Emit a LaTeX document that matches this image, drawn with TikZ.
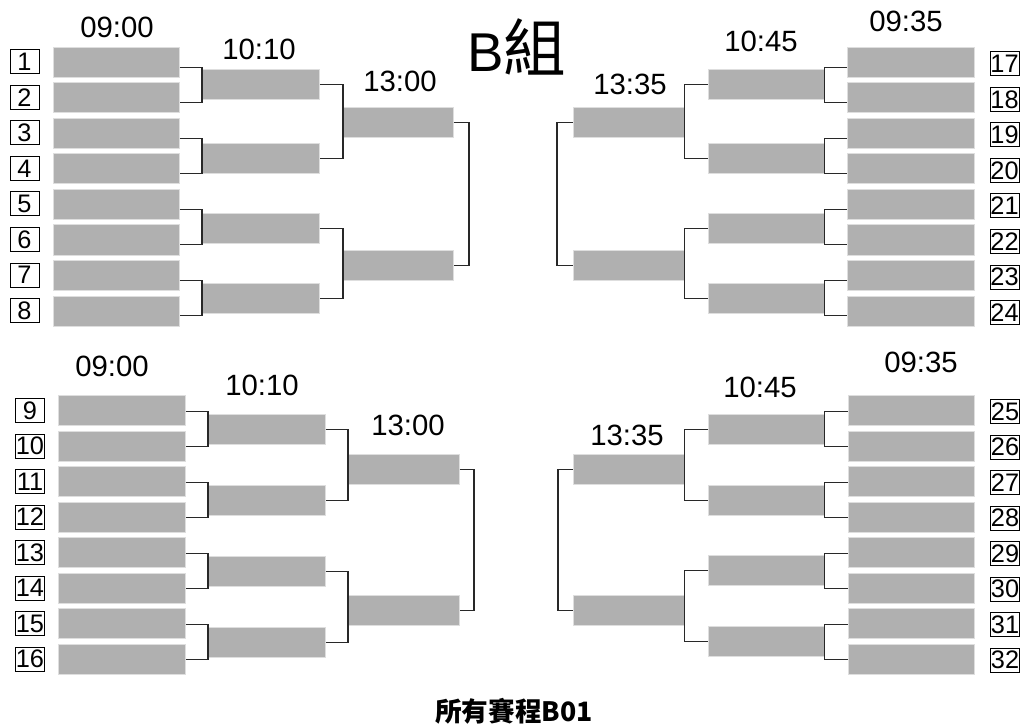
\documentclass[tikz,border=0pt]{standalone}
\usepackage{fontspec}
\setmainfont{Liberation Sans}
\newfontfamily\cjkfont{Noto Sans CJK TC}
\definecolor{boxgray}{RGB}{176,176,176}
\definecolor{boxedge}{RGB}{222,222,222}
\definecolor{linkcol}{RGB}{40,40,40}
\tikzset{
  gbox/.style={fill=boxgray, draw=boxedge, line width=0.4pt, inner sep=0pt, anchor=north west, minimum height=22.5pt},
  numbox/.style={draw=black, line width=0.75pt, inner sep=0pt, minimum width=21.75pt, minimum height=18pt, font=\fontsize{19}{19}\selectfont},
  timelbl/.style={anchor=base, inner sep=0pt, font=\fontsize{22}{22}\selectfont},
  link/.style={draw=linkcol, line width=0.9pt},
}
\begin{document}
\begin{tikzpicture}[x=0.75pt, y=-0.75pt]
\useasboundingbox[fill=white] (0,0) rectangle (1023,727);

% ---------- top left ----------
\foreach \i [evaluate=\i as \t using 47+35.5*\i, evaluate=\i as \nn using int(\i+1)] in {0,...,7} {
  \node[gbox, minimum width=94.5pt] (tla-\i) at (53,\t) {};
  \node[numbox] (ntl-\i) at (24.5,\t+15) {\nn};
}
\foreach \j/\t in {0/69,1/143,2/213,3/283}
  \node[gbox, minimum width=87.75pt] (tlb-\j) at (202,\t) {};
\foreach \j/\t in {0/107,1/250}
  \node[gbox, minimum width=82.5pt] (tlc-\j) at (343,\t) {};
\foreach \j in {0,...,3} {
  \pgfmathtruncatemacro\a{2*\j}\pgfmathtruncatemacro\b{2*\j+1}
  \draw[link] ([yshift=-3.75pt]tla-\a.east) -| (tlb-\j.west) |- ([yshift=-3.75pt]tla-\b.east);
}
\draw[link] (tlb-0.east) -| (tlc-0.west) |- (tlb-1.east);
\draw[link] (tlb-2.east) -| (tlc-1.west) |- (tlb-3.east);
\coordinate (tlf) at (469,190);
\draw[link] (tlc-0.east) -| (tlf) |- (tlc-1.east);

% ---------- bottom left ----------
\foreach \i [evaluate=\i as \t using 395+35.5*\i, evaluate=\i as \nn using int(\i+9)] in {0,...,7} {
  \node[gbox, minimum width=95.25pt] (bla-\i) at (58,\t) {};
  \node[numbox] (nbl-\i) at (30,\t+15.5) {\nn};
}
\foreach \j/\t in {0/414,1/485,2/556,3/627}
  \node[gbox, minimum width=87.75pt] (blb-\j) at (208,\t) {};
\foreach \j/\t in {0/454,1/595}
  \node[gbox, minimum width=83.25pt] (blc-\j) at (348,\t) {};
\foreach \j in {0,...,3} {
  \pgfmathtruncatemacro\a{2*\j}\pgfmathtruncatemacro\b{2*\j+1}
  \draw[link] ([yshift=-0.75pt]bla-\a.east) -| (blb-\j.west) |- ([yshift=-0.75pt]bla-\b.east);
}
\draw[link] (blb-0.east) -| (blc-0.west) |- (blb-1.east);
\draw[link] (blb-2.east) -| (blc-1.west) |- (blb-3.east);
\coordinate (blf) at (474,540);
\draw[link] (blc-0.east) -| (blf) |- (blc-1.east);

% ---------- top right ----------
\foreach \i [evaluate=\i as \t using 47+35.5*\i, evaluate=\i as \nn using int(\i+17)] in {0,...,7} {
  \node[gbox, minimum width=95.25pt] (tra-\i) at (847,\t) {};
  \node[numbox] (ntr-\i) at (1004.5,\t+17) {\nn};
}
\foreach \j/\t in {0/69,1/143,2/213,3/283}
  \node[gbox, minimum width=87pt] (trb-\j) at (708,\t) {};
\foreach \j/\t in {0/107,1/250}
  \node[gbox, minimum width=83.25pt] (trc-\j) at (573,\t) {};
\foreach \j in {0,...,3} {
  \pgfmathtruncatemacro\a{2*\j}\pgfmathtruncatemacro\b{2*\j+1}
  \draw[link] ([yshift=-3.75pt]tra-\a.west) -| (trb-\j.east) |- ([yshift=-3.75pt]tra-\b.west);
}
\draw[link] (trb-0.west) -| (trc-0.east) |- (trb-1.west);
\draw[link] (trb-2.west) -| (trc-1.east) |- (trb-3.west);
\coordinate (trf) at (557,190);
\draw[link] (trc-0.west) -| (trf) |- (trc-1.west);

% ---------- bottom right ----------
\foreach \i [evaluate=\i as \t using 395+35.5*\i, evaluate=\i as \nn using int(\i+25)] in {0,...,7} {
  \node[gbox, minimum width=94.5pt] (bra-\i) at (848,\t) {};
  \node[numbox] (nbr-\i) at (1005,\t+16.5) {\nn};
}
\foreach \j/\t in {0/414,1/485,2/555,3/626}
  \node[gbox, minimum width=87pt] (brb-\j) at (708,\t) {};
\foreach \j/\t in {0/454,1/595}
  \node[gbox, minimum width=83.25pt] (brc-\j) at (573,\t) {};
\foreach \j in {0,...,3} {
  \pgfmathtruncatemacro\a{2*\j}\pgfmathtruncatemacro\b{2*\j+1}
  \draw[link] ([yshift=-0.75pt]bra-\a.west) -| (brb-\j.east) |- ([yshift=-0.75pt]bra-\b.west);
}
\draw[link] (brb-0.west) -| (brc-0.east) |- (brb-1.west);
\draw[link] (brb-2.west) -| (brc-1.east) |- (brb-3.west);
\coordinate (brf) at (558,540);
\draw[link] (brc-0.west) -| (brf) |- (brc-1.west);

% ---------- time labels ----------
\node[timelbl] (t-tl1) at (117,38) {09:00};
\node[timelbl] (t-tl2) at (259,60) {10:10};
\node[timelbl] (t-tl3) at (400,92) {13:00};
\node[timelbl] (t-tr3) at (630,95) {13:35};
\node[timelbl] (t-tr2) at (761,52) {10:45};
\node[timelbl] (t-tr1) at (906,32) {09:35};
\node[timelbl] (t-bl1) at (112,376) {09:00};
\node[timelbl] (t-bl2) at (262,395) {10:10};
\node[timelbl] (t-bl3) at (408,435) {13:00};
\node[timelbl] (t-br3) at (627,445) {13:35};
\node[timelbl] (t-br2) at (760,397) {10:45};
\node[timelbl] (t-br1) at (921,372) {09:35};

% ---------- titles ----------
\node[anchor=base, inner sep=0pt, font=\fontsize{41}{41}\selectfont] (title) at (517,72) {B{\cjkfont\fontsize{47}{47}\selectfont 組}};
\node[anchor=base, inner sep=0pt, font=\cjkfont\bfseries\fontsize{20}{20}\selectfont] (footer) at (514,721) {所有賽程B01};
\end{tikzpicture}
\end{document}
